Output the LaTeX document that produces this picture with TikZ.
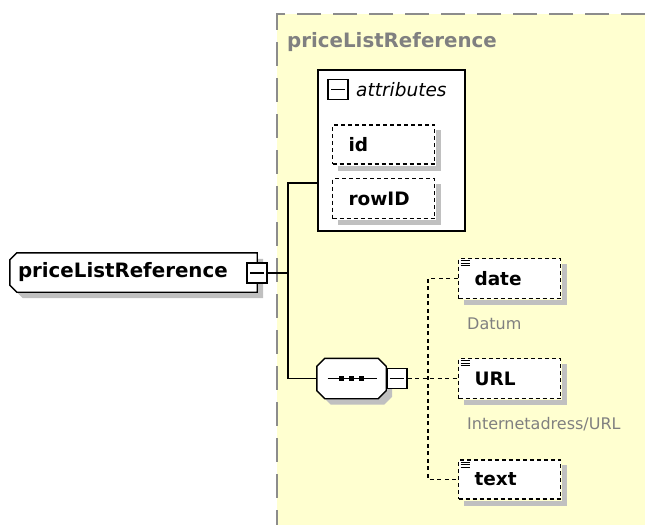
\documentclass[tikz,border=0pt]{standalone}
\usepackage{fontspec}
\setmainfont{DejaVu Sans}
\usetikzlibrary{calc}
\definecolor{bgyellow}{RGB}{255,255,208}
\definecolor{shadowgray}{RGB}{192,192,192}
\definecolor{textgray}{RGB}{128,128,128}
\definecolor{bordergray}{RGB}{140,140,140}
\pgfdeclarelayer{bg}
\pgfdeclarelayer{shapes}
\pgfsetlayers{bg,shapes,main}
\begin{document}
\begin{tikzpicture}[x=1pt,y=-1pt,
  boldtext/.style={font=\bfseries\fontsize{18.5}{20}\selectfont},
  bigbold/.style={font=\bfseries\fontsize{19.8}{22}\selectfont},
  elembox/.style={draw=black, fill=white, line width=1.9pt, dash pattern=on 4pt off 3pt,
    boldtext, minimum height=40, text width=70, inner xsep=16, align=left},
  boxshadow/.style={fill=shadowgray},
  minusbox/.style={draw=black, fill=white, line width=1.4pt, minimum width=20, minimum height=20, inner sep=0pt,
    path picture={\draw[line width=1.4pt] ([xshift=3pt]path picture bounding box.west) -- ([xshift=-3pt]path picture bounding box.east);}},
  outline/.style={draw=black, fill=white, line width=1.4pt},
  solidline/.style={draw=black, line width=1.4pt},
  dashline/.style={draw=black, line width=1.6pt, dash pattern=on 4pt off 3.5pt},
  note/.style={text=textgray, font=\fontsize{16}{18}\selectfont, inner sep=0pt, anchor=west}
]
\useasboundingbox (0,0) rectangle (645,525);
\begin{pgfonlayer}{bg}
\fill[white] (0,0) rectangle (645,525);
\fill[bgyellow] (277,14) rectangle (645,525);
\draw[bordergray, line width=2pt, dash pattern=on 24pt off 12pt] (645,14) -- (277,14) -- (277,525);
\end{pgfonlayer}
\node[text=textgray, bigbold, anchor=west, inner sep=0pt] (title) at (287,42) {priceListReference};

% attributes box
\node[draw=black, fill=white, line width=1.6pt, minimum width=147, minimum height=161, inner sep=0pt] (attr) at (391.5,150.5) {};
\node[minusbox] (attrminus) at (338,89.5) {};
\node[anchor=west, inner sep=0pt, font=\itshape\fontsize{18.5}{20}\selectfont] (attrlabel) at (356,90) {attributes};
\node[elembox, minimum height=39] (id) at (383.5,144.5) {id};
\node[elembox] (rowid) at (383.5,198.5) {rowID};
\foreach \n in {id,rowid}{
  \fill[boxshadow] ($(\n.north east)+(1,6)$) rectangle ($(\n.south east)+(6,6)$);
  \fill[boxshadow] ($(\n.south west)+(6,1)$) rectangle ($(\n.south east)+(6,6)$);
}

% main element
\node[bigbold, minimum width=247, minimum height=39, text width=231, inner xsep=8, inner ysep=0, align=left] (main) at (133.5,272.5) {priceListReference};
\begin{pgfonlayer}{shapes}
\fill[boxshadow] ($(main.north west)+(13,6)$) -- ($(main.north east)+(6,6)$) -- ($(main.south east)+(6,6)$) -- ($(main.south west)+(13,6)$) -- ($(main.south west)+(6,-1)$) -- ($(main.north west)+(6,13)$) -- cycle;
\draw[outline] ($(main.north west)+(7,0)$) -- (main.north east) -- (main.south east) -- ($(main.south west)+(7,0)$) -- ($(main.south west)+(0,-7)$) -- ($(main.north west)+(0,7)$) -- cycle;
\end{pgfonlayer}
\node[minusbox] (mainminus) at (257,273) {};

% sequence
\node[minimum width=69, minimum height=40, inner sep=0pt] (seq) at (351.5,378.5) {};
\begin{pgfonlayer}{shapes}
\fill[boxshadow] ($(seq.north west)+(14,6)$) -- ($(seq.north east)+(-2,6)$) -- ($(seq.north east)+(6,14)$) -- ($(seq.south east)+(6,-2)$) -- ($(seq.south east)+(-2,6)$) -- ($(seq.south west)+(14,6)$) -- ($(seq.south west)+(6,-2)$) -- ($(seq.north west)+(6,14)$) -- cycle;
\draw[outline] ($(seq.north west)+(8,0)$) -- ($(seq.north east)+(-8,0)$) -- ($(seq.north east)+(0,8)$) -- ($(seq.south east)+(0,-8)$) -- ($(seq.south east)+(-8,0)$) -- ($(seq.south west)+(8,0)$) -- ($(seq.south west)+(0,-8)$) -- ($(seq.north west)+(0,8)$) -- cycle;
\end{pgfonlayer}
\node[minusbox] (seqminus) at (397,378.5) {};
\draw[line width=1.4pt] ($(seq.center)+(-24,0)$) -- ($(seq.center)+(25,0)$);
\foreach \dx in {-10,0,10}{
  \fill[black] ($(seq.center)+(\dx-2.5,-2.5)$) rectangle ($(seq.center)+(\dx+2.5,2.5)$);
}

% child elements
\node[elembox] (date) at (509.5,278.5) {date};
\node[elembox] (url) at (509.5,378.5) {URL};
\node[elembox, minimum height=39] (txt) at (509.5,479.5) {text};
\foreach \n in {date,url,txt}{
  \fill[boxshadow] ($(\n.north east)+(1,6)$) rectangle ($(\n.south east)+(6,6)$);
  \fill[boxshadow] ($(\n.south west)+(6,1)$) rectangle ($(\n.south east)+(6,6)$);
  \foreach \dy in {3,5.5,8}{
    \draw[line width=0.9pt] ($(\n.north west)+(3,\dy)$) -- ($(\n.north west)+(12,\dy)$);
  }
}
\node[note] (datumnote) at (467,324) {Datum};
\node[note] (urlnote) at (467,424) {Internetadress/URL};

% connectors
\coordinate (jtop) at (288,183);
\coordinate (bus) at (428,378.5);
\draw[solidline] (mainminus.east) -- (mainminus.east -| jtop);
\draw[solidline] (attr.west |- jtop) -- (jtop) -- (jtop |- seq.west) -- (seq.west);
\draw[dashline] (seqminus.east) -- (url.west);
\draw[dashline] (date.west) -- (date.west -| bus) -- (txt.west -| bus) -- (txt.west);
\end{tikzpicture}
\end{document}
